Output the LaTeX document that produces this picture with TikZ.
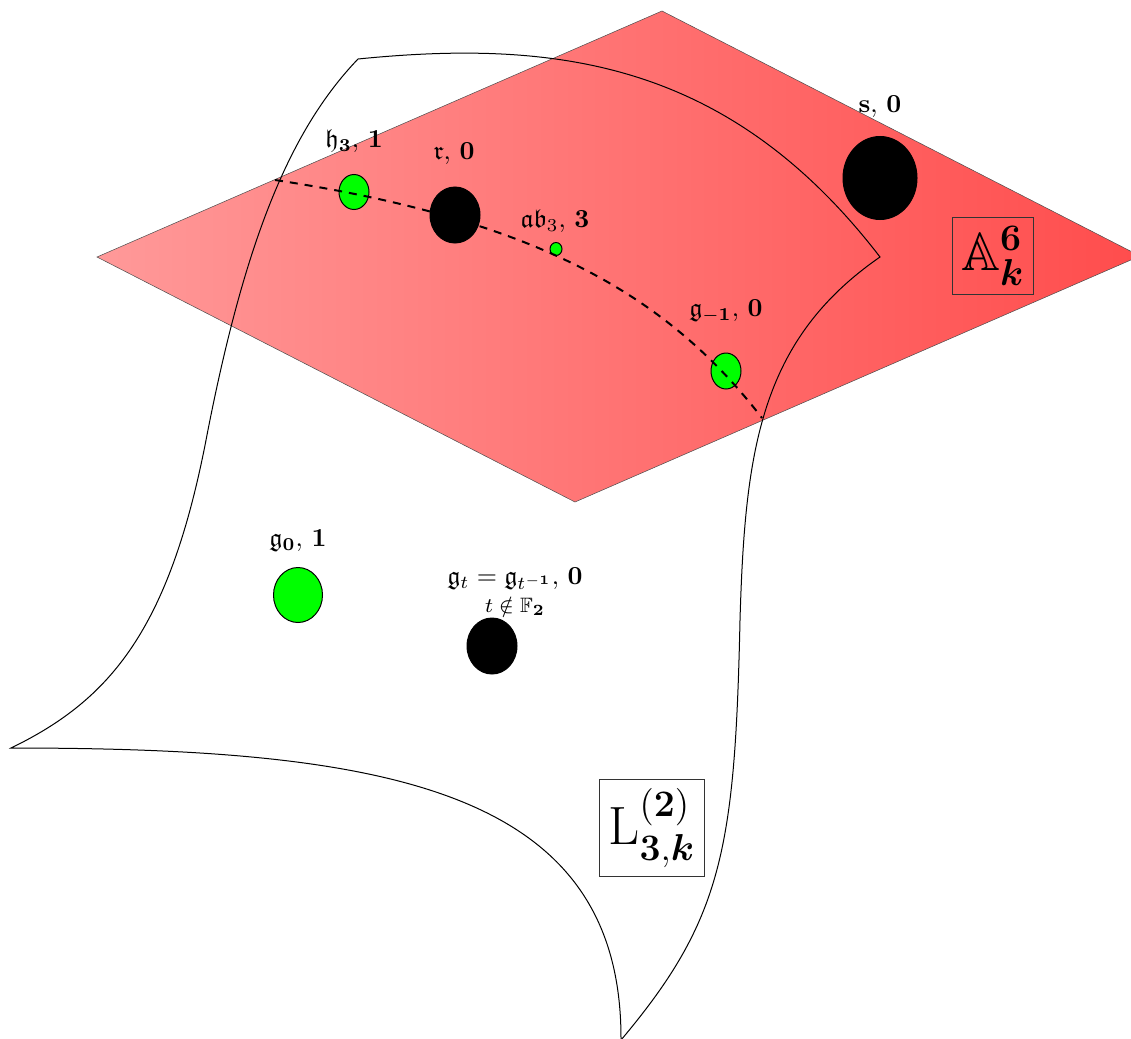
\documentclass[tikz,border=0pt]{standalone}
\usepackage{amsmath,amssymb}
\usetikzlibrary{shapes.geometric}
\begin{document}
\begin{tikzpicture}[x=1pt,y=-1pt,
  lbl/.style={scale=2.6, inner sep=0pt},
  gpt/.style={ellipse, draw=black, line width=1pt, fill=green, inner sep=0pt},
  bpt/.style={ellipse, draw=black, line width=1pt, fill=black, inner sep=0pt},
  surf/.style={line width=1pt},
  boxlbl/.style={draw=black!80, line width=1pt, scale=2.6, font=\huge, inner sep=3.33pt}
]
\useasboundingbox (0,0) rectangle (1131,1038);
% plane A^6
\coordinate (pl) at (97,257);
\coordinate (pt) at (662,11);
\coordinate (pr) at (1140,256);
\coordinate (pb) at (575,502);
\shadedraw[left color=red!40, right color=red!70, draw=black!70, line width=0.5pt]
  (pl) -- (pt) -- (pr) -- (pb) -- cycle;
% surface L
\coordinate (c1) at (358,59);
\coordinate (c2) at (880,257);
\coordinate (c3) at (621,1040);
\coordinate (c4) at (11,748);
\coordinate (m1) at (740,620);
\coordinate (m2) at (207,435);
\draw[surf] (c1) .. controls (558,39) and (730,62) .. (c2)
  .. controls (760,340) and (745,450) .. (m1)
  .. controls (735,850) and (722,920) .. (c3);
\draw[surf] (c1) .. controls (290,130) and (245,240) .. (m2)
  .. controls (170,630) and (110,700) .. (c4)
  .. controls (390,748) and (622,790) .. (c3);
% points
\node[gpt, minimum width=30pt, minimum height=35pt] (h3) at (354,192) {};
\node[bpt, minimum width=50pt, minimum height=56pt] (r) at (455,215) {};
\node[gpt, minimum width=12pt, minimum height=13pt] (ab3) at (556,249) {};
\node[gpt, minimum width=30pt, minimum height=36pt] (gm1) at (726,371) {};
\node[bpt, minimum width=74pt, minimum height=83pt] (s) at (880,178) {};
\node[gpt, minimum width=49pt, minimum height=55pt] (g0) at (298,595) {};
\node[bpt, minimum width=50pt, minimum height=56pt] (gt) at (492,646) {};
% dashed curve on surface
\coordinate (d1) at (275,180);
\coordinate (d2) at (762,418);
\draw[line width=2pt, dash pattern=on 8pt off 7pt] (d1) .. controls (525,218) and (662,288) .. (d2);
% labels
\node[lbl] (lh3) at (354,141) {$\mathfrak{h}_{\mathbf{3}},\,\mathbf{1}$};
\node[lbl] (lr) at (454,154) {$\mathfrak{r},\,\mathbf{0}$};
\node[lbl] (lab3) at (555,221) {$\mathfrak{ab}_3,\,\mathbf{3}$};
\node[lbl] (lgm1) at (726,311) {$\mathfrak{g}_{-\mathbf{1}},\,\mathbf{0}$};
\node[lbl] (ls) at (880,107) {$\mathbf{s},\,\mathbf{0}$};
\node[lbl] (lg0) at (298,541) {$\mathfrak{g}_{\mathbf{0}},\,\mathbf{1}$};
\node[lbl] (lgt) at (515,579) {$\mathfrak{g}_t=\mathfrak{g}_{t^{-\mathbf{1}}},\,\mathbf{0}$};
\node[lbl, font=\footnotesize] (lgt2) at (515,606) {$t\notin\mathbb{F}_{\mathbf{2}}$};
% boxed names
\node[boxlbl] (A6) at (993,256) {$\mathbb{A}^{\mathbf{6}}_{\boldsymbol{k}}$};
\node[boxlbl] (L32) at (652,828) {$\mathrm{L}^{(\mathbf{2})}_{\mathbf{3},\boldsymbol{k}}$};
\end{tikzpicture}
\end{document}
